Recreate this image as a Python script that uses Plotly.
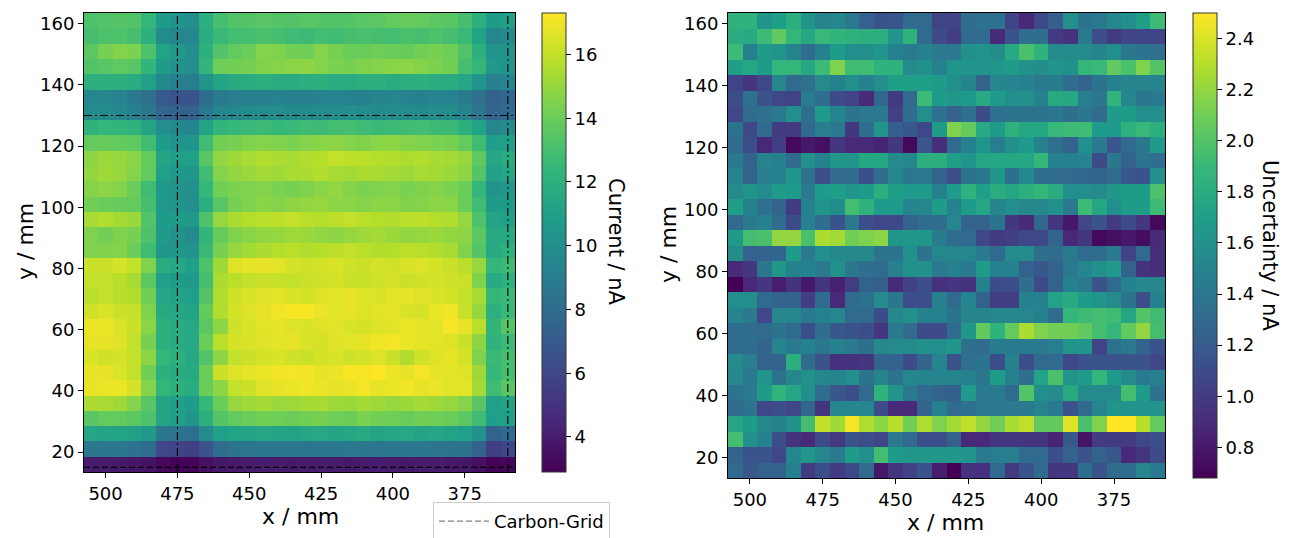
import plotly.graph_objects as go

# ---------------- data ----------------
x_mm = [505, 500, 495, 490, 485, 480, 475, 470, 465, 460, 455, 450, 445, 440, 435,
        430, 425, 420, 415, 410, 405, 400, 395, 390, 385, 380, 375, 370, 365, 360]
y_mm = [161, 156, 151, 146, 141, 136, 131, 126, 121, 116, 111, 106, 101, 96, 91,
        86, 81, 76, 71, 66, 61, 56, 51, 46, 41, 36, 31, 26, 21, 16]

# rows follow y_mm (top -> bottom), columns follow x_mm
current_nA = [
    [13.2,13.3,13.4,13.3,12.4,10.8,10.4,10.0,11.9,13.0,13.3,13.4,13.5,13.4,13.3,13.5,13.4,13.3,13.4,13.5,13.6,13.8,13.9,13.8,13.6,13.5,13.0,12.0,10.8,11.0],
    [13.0,13.2,13.2,13.0,12.0,9.8,9.5,9.6,11.8,12.6,12.9,13.0,13.1,13.0,12.8,12.7,12.9,12.8,13.0,13.1,13.0,12.9,13.1,13.0,13.2,13.0,12.6,11.2,9.6,9.8],
    [13.6,14.3,14.6,14.4,13.2,11.2,10.6,10.0,12.0,13.3,13.8,14.0,14.6,14.5,14.2,14.1,14.6,14.3,14.0,14.0,14.1,14.0,13.9,14.2,14.3,14.1,13.3,12.0,10.4,10.3],
    [13.3,13.5,13.7,13.5,12.3,10.7,10.2,10.0,12.3,14.1,14.2,14.3,14.5,14.6,14.7,14.8,14.6,14.4,14.3,14.5,14.6,14.7,14.8,14.6,14.4,14.2,13.0,12.4,10.6,10.4],
    [11.9,12.0,12.0,11.7,11.0,9.7,9.2,9.0,10.4,11.3,11.6,11.8,11.9,11.8,11.7,11.9,12.0,11.8,11.7,11.9,12.0,11.8,11.9,12.0,11.8,11.7,11.4,10.4,9.2,9.4],
    [9.5,9.5,9.3,8.8,8.2,6.9,6.7,6.6,8.0,8.8,9.0,9.1,9.2,9.3,9.2,9.1,9.3,9.4,9.3,9.2,9.4,9.5,9.3,9.2,9.4,9.3,8.9,8.2,7.4,7.6],
    [9.8,9.8,9.7,9.2,8.6,7.6,7.4,7.3,8.7,9.6,9.7,9.8,9.9,10.0,9.8,9.7,9.9,10.0,10.1,9.9,9.8,10.0,9.9,9.8,10.0,9.9,9.4,8.5,7.6,7.8],
    [12.2,12.4,12.3,12.2,11.3,10.0,9.7,9.4,11.3,12.3,12.5,12.6,12.7,12.5,12.6,12.8,12.7,12.9,13.0,12.8,12.6,12.7,12.8,12.9,12.7,12.6,12.0,11.2,9.5,9.8],
    [13.8,13.9,13.8,13.7,12.8,10.8,10.4,10.4,12.8,14.2,14.3,14.5,14.6,14.5,14.4,14.6,14.7,14.8,14.6,14.5,14.7,14.8,14.6,14.5,14.4,14.3,13.8,12.8,10.9,11.0],
    [14.8,15.1,15.0,14.7,13.8,11.3,11.0,11.0,13.5,14.9,15.2,15.4,15.6,15.5,15.4,15.6,15.7,16.0,15.9,15.8,15.7,15.6,15.5,15.6,15.4,15.3,15.0,13.7,11.4,11.8],
    [14.9,15.2,15.0,14.6,13.8,11.0,10.6,10.5,12.8,14.6,14.9,15.1,15.3,15.2,15.4,15.5,15.6,15.4,15.3,15.5,15.4,15.3,15.2,15.4,15.3,15.1,14.8,13.4,11.1,11.4],
    [14.6,14.8,14.6,14.0,12.8,10.6,10.3,10.1,12.5,14.2,14.4,14.5,14.6,14.4,14.3,14.5,14.7,14.9,14.6,14.4,14.5,14.6,14.4,14.5,14.6,14.4,14.0,12.4,10.3,10.6],
    [14.2,14.0,13.9,13.8,13.0,10.6,10.4,10.0,11.9,13.5,14.3,14.5,14.7,14.6,14.8,14.9,15.0,14.8,14.7,14.6,14.8,14.7,14.5,14.6,14.8,14.7,14.0,12.8,10.7,10.8],
    [15.4,15.6,15.3,15.1,13.3,10.8,10.8,10.6,13.2,15.0,15.5,15.7,15.8,15.9,16.0,15.8,15.7,15.9,16.0,15.8,15.7,15.6,15.8,15.9,15.7,15.6,15.0,13.2,11.3,11.0],
    [14.5,14.2,14.5,14.3,13.2,10.7,10.2,9.8,12.3,13.9,14.5,14.7,14.9,15.0,15.2,15.1,14.9,14.8,15.0,15.2,15.3,15.1,14.9,15.0,15.1,14.9,14.8,13.6,11.6,11.6],
    [14.5,14.5,14.6,14.0,12.8,10.5,10.5,10.3,12.6,14.3,15.0,15.3,15.5,15.7,15.8,15.6,15.7,15.9,16.0,15.8,15.6,15.7,15.9,15.8,15.6,15.4,14.5,13.4,11.6,12.0],
    [16.2,16.2,16.4,16.0,14.5,11.8,11.5,11.0,13.2,15.2,16.6,16.8,16.8,16.7,16.4,16.3,16.4,16.5,16.3,16.2,16.4,16.3,16.5,16.6,16.4,16.2,15.8,15.0,12.4,12.7],
    [16.0,16.0,15.8,15.4,13.6,11.0,10.8,10.6,13.0,15.5,15.8,16.0,16.2,16.1,16.0,16.2,16.3,16.4,16.2,16.1,16.3,16.4,16.2,16.3,16.4,16.3,16.2,14.5,11.6,12.0],
    [15.8,16.0,15.8,15.6,14.2,11.4,11.2,10.9,13.3,15.6,16.3,16.5,16.6,16.7,16.5,16.4,16.6,16.7,16.8,16.6,16.5,16.7,16.8,16.6,16.5,16.4,16.0,15.4,12.4,12.6],
    [16.3,16.5,16.2,16.1,14.5,11.6,11.4,11.2,13.8,15.6,16.4,16.6,16.8,17.0,17.2,17.2,16.9,16.7,16.8,16.6,16.7,16.8,16.5,16.4,16.9,17.0,16.1,15.0,12.0,12.6],
    [16.9,16.9,16.5,16.2,14.7,12.0,11.8,11.5,13.6,14.8,16.3,16.5,16.7,16.8,16.6,16.5,16.6,16.7,16.5,16.4,16.6,16.7,16.9,16.8,16.7,17.1,16.8,15.8,12.3,13.4],
    [16.8,16.8,16.6,16.0,14.3,12.0,11.8,11.5,14.0,15.8,16.4,16.5,16.6,16.7,16.8,16.5,16.4,16.6,16.7,16.8,17.0,17.1,16.9,16.8,16.7,16.6,16.2,14.8,12.2,12.7],
    [16.5,16.3,16.4,16.0,14.8,12.5,12.0,11.5,13.3,14.8,16.0,16.2,16.4,16.5,16.3,16.2,16.4,16.5,16.3,16.4,16.6,16.2,15.6,16.3,16.6,16.8,16.4,14.5,12.6,13.0],
    [16.8,16.8,16.5,16.0,14.2,12.0,11.8,11.6,14.0,16.2,16.6,16.8,16.9,17.0,17.1,17.0,16.8,16.9,17.2,17.1,17.3,16.9,16.8,17.1,16.8,16.7,16.6,15.2,12.5,13.0],
    [16.8,16.9,16.9,16.4,14.6,12.4,12.0,11.8,14.0,14.8,16.0,16.2,16.6,16.8,16.9,17.0,16.9,16.8,16.9,17.1,16.8,16.9,17.0,16.8,16.9,16.7,16.7,15.3,12.8,13.5],
    [15.5,15.4,15.2,14.6,13.5,11.3,11.0,10.8,12.5,14.0,15.0,15.2,15.3,15.1,15.2,15.3,15.4,15.2,15.1,15.3,15.2,15.0,15.1,15.3,15.2,15.0,14.6,13.5,11.0,11.2],
    [13.5,13.8,13.8,13.6,13.2,11.3,11.0,10.4,12.0,13.4,13.8,14.0,14.2,14.1,14.0,14.2,14.3,14.1,14.0,14.4,14.2,14.1,14.0,14.2,14.1,14.0,13.6,12.8,10.9,11.0],
    [11.4,11.3,11.2,11.1,10.6,8.7,8.4,8.1,9.8,11.0,11.2,11.3,11.4,11.3,11.2,11.4,11.5,11.3,11.4,11.6,11.3,11.4,11.5,11.3,11.4,11.2,11.0,10.2,7.4,7.8],
    [8.6,8.6,8.6,8.3,8.0,6.0,5.8,5.6,6.6,8.0,8.4,8.5,8.6,8.7,8.6,8.5,8.6,8.7,8.8,8.6,8.5,8.6,8.7,8.6,8.5,8.4,8.3,7.4,5.6,6.0],
    [4.0,4.0,3.9,3.8,3.6,3.2,3.0,3.0,3.5,3.8,3.9,4.0,4.1,4.0,3.9,4.0,4.1,4.0,3.9,4.0,4.1,4.0,3.9,4.0,4.0,3.9,3.8,3.5,3.0,3.1],
]

uncertainty_nA = [
    [1.85,1.85,1.62,1.70,1.82,1.62,1.50,1.52,1.42,1.24,1.15,1.16,1.30,1.30,1.05,1.06,1.32,1.36,1.36,1.05,0.88,1.08,1.22,1.58,1.38,1.42,1.52,1.58,1.70,1.92],
    [1.80,1.78,1.92,2.05,1.88,1.76,1.90,1.86,1.84,1.82,1.82,1.62,1.85,1.30,1.10,1.02,1.30,1.32,0.90,1.15,1.33,1.34,1.00,0.95,1.42,1.12,1.00,1.06,1.06,1.05],
    [1.92,1.48,1.67,1.62,1.50,1.32,1.48,1.68,1.58,1.58,1.62,1.48,1.43,1.47,1.42,1.42,1.60,1.62,1.57,1.78,1.97,1.85,1.55,1.55,1.55,1.50,1.58,1.40,1.38,1.35],
    [1.70,1.76,1.68,1.88,1.88,1.76,1.92,2.14,1.93,1.93,1.85,1.85,1.55,1.60,1.48,1.62,1.62,1.62,1.62,1.68,1.60,1.57,1.62,1.60,1.88,1.90,2.05,1.97,2.14,2.00],
    [1.05,0.96,1.08,1.52,1.30,1.35,1.55,1.48,1.58,1.47,1.58,1.70,1.70,1.70,1.66,1.58,1.50,1.25,1.52,1.50,1.48,1.42,1.44,1.32,1.25,1.37,1.48,1.50,1.50,1.50],
    [1.12,1.36,1.15,1.07,1.05,1.44,1.33,1.10,1.05,0.90,1.28,1.00,1.30,1.92,1.68,1.64,1.66,1.78,1.66,1.58,1.60,1.48,1.78,1.76,1.46,1.40,1.86,1.52,1.40,1.42],
    [1.07,1.32,1.35,1.42,1.58,1.33,1.68,1.50,1.38,1.42,1.42,1.03,1.33,1.58,1.36,1.24,1.36,1.10,1.36,1.37,1.37,1.37,1.40,1.34,1.40,1.32,1.66,1.68,1.58,1.58],
    [1.37,1.07,1.30,1.00,1.00,1.30,1.45,1.42,0.98,1.34,1.62,1.23,1.18,1.08,1.68,2.14,2.06,1.78,1.66,1.84,1.76,1.76,1.90,1.92,1.93,1.68,1.66,1.84,1.90,1.82],
    [1.32,1.12,0.88,1.02,0.72,0.80,0.76,0.98,0.90,0.88,0.86,0.98,0.72,1.16,0.92,1.30,1.48,1.62,1.45,1.60,1.66,1.48,1.35,1.25,1.58,1.42,1.16,1.30,1.40,1.66],
    [1.42,1.25,1.50,1.48,1.30,1.60,1.48,1.64,1.62,1.76,1.76,1.55,1.52,1.82,1.82,1.70,1.62,1.75,1.76,1.76,1.76,1.88,1.48,1.48,1.50,1.10,1.40,1.25,1.38,1.33],
    [1.50,1.25,1.45,1.48,1.62,1.35,1.12,1.30,1.32,1.13,1.33,1.52,1.40,1.42,1.25,1.12,1.38,1.40,1.64,1.34,1.53,1.33,1.30,1.30,1.28,1.26,1.32,1.18,1.15,1.58],
    [1.55,1.62,1.56,1.66,1.66,1.42,1.66,1.70,1.62,1.68,1.82,1.70,1.66,1.66,1.48,1.66,1.85,1.70,1.80,1.75,1.82,1.88,1.80,1.58,1.58,1.55,1.64,1.68,1.68,1.98],
    [1.70,1.48,1.35,1.26,1.00,1.48,1.62,1.57,1.95,1.85,1.66,1.66,1.50,1.52,1.68,1.48,1.68,1.75,1.50,1.58,1.53,1.53,1.60,1.42,1.92,1.75,1.58,1.68,1.68,1.92],
    [1.30,1.42,1.47,1.32,1.10,1.48,1.33,1.15,1.42,1.12,1.07,1.08,1.25,1.32,1.32,1.52,1.25,1.25,1.38,0.98,0.90,1.28,0.96,0.80,1.07,1.15,1.00,1.10,0.97,0.72],
    [1.68,1.95,1.97,2.20,2.20,1.97,2.27,2.25,2.10,2.14,2.18,1.64,1.64,1.64,1.44,1.32,1.30,1.08,1.00,1.02,1.08,1.08,1.27,0.88,0.98,0.72,0.76,0.80,0.74,0.90],
    [1.57,1.24,1.24,1.27,1.68,1.42,1.58,1.53,1.53,1.53,1.38,1.38,1.60,1.37,1.52,1.52,1.52,1.42,1.30,1.55,1.55,1.34,1.32,1.42,1.30,1.32,1.42,1.05,1.30,0.92],
    [0.90,0.98,1.40,1.64,1.48,1.48,1.42,1.60,1.40,1.33,1.30,1.47,1.60,1.60,1.42,1.48,1.42,1.68,1.48,1.48,1.24,1.18,1.25,1.42,1.52,1.60,1.66,1.25,0.95,0.92],
    [0.68,0.88,0.97,0.83,0.95,0.80,0.96,0.84,1.01,1.25,1.22,0.90,1.04,1.12,0.94,0.96,0.94,1.48,1.10,1.12,1.33,1.10,1.25,1.48,1.42,1.15,1.30,1.48,1.53,1.52],
    [1.58,1.58,1.30,1.26,1.26,1.02,1.32,0.88,1.30,1.36,1.55,1.40,1.12,1.12,1.48,1.30,1.50,1.25,1.02,1.02,1.48,1.48,1.72,1.78,1.68,1.62,1.55,1.37,1.12,1.48],
    [1.50,1.42,1.07,1.52,1.52,1.42,1.48,1.52,1.30,1.30,1.10,1.53,1.60,1.48,1.48,1.37,1.50,1.50,1.52,1.52,1.52,1.48,1.32,1.88,1.92,1.95,1.93,1.75,2.00,1.93],
    [1.32,1.32,1.30,1.37,1.30,1.12,1.33,1.18,1.15,1.12,0.97,1.42,1.32,1.10,1.10,1.32,1.64,2.05,1.85,2.06,2.27,2.14,2.10,2.10,2.05,1.95,1.88,2.05,2.20,1.95],
    [1.32,1.32,1.26,1.50,1.42,1.48,1.40,1.48,1.42,1.34,1.53,1.55,1.55,1.60,1.58,1.64,1.34,1.32,1.44,1.43,1.43,1.42,1.45,1.62,1.62,1.05,1.36,1.42,1.26,1.15],
    [1.55,1.45,1.25,1.24,1.82,1.32,1.15,0.94,0.94,0.96,1.26,1.24,1.10,1.26,1.50,1.15,1.35,1.38,1.12,1.48,1.12,1.30,1.30,1.08,1.15,1.15,1.15,1.15,1.15,1.07],
    [1.53,1.42,1.62,1.38,1.52,1.60,1.52,1.50,1.58,1.38,1.50,1.38,1.52,1.50,1.50,1.50,1.48,1.40,1.68,1.48,1.34,1.72,1.97,1.62,1.66,1.88,1.66,1.55,1.42,1.47],
    [1.37,1.43,1.66,1.86,1.75,1.58,1.32,1.18,1.12,1.30,1.85,1.62,1.42,1.30,1.25,1.23,1.66,1.42,1.42,1.30,2.00,1.58,1.55,1.78,1.55,1.55,1.55,1.95,1.68,1.38],
    [1.32,1.37,1.08,1.12,1.07,1.28,0.96,1.52,1.52,1.52,1.10,0.88,0.90,1.26,1.48,1.30,1.36,1.42,1.42,1.42,1.43,1.50,1.43,1.15,1.30,1.50,1.62,1.62,1.62,1.62],
    [1.75,1.68,1.53,1.48,1.60,1.95,2.33,2.24,2.47,2.28,2.18,2.30,2.10,2.28,2.14,2.25,2.33,2.20,2.10,2.27,2.33,2.05,2.05,2.42,1.97,2.14,2.50,2.50,2.30,2.06],
    [1.95,1.60,1.48,1.12,0.95,0.90,1.10,1.00,1.15,1.12,1.07,1.42,1.30,1.12,1.12,1.25,0.88,0.88,0.96,0.96,0.96,0.96,0.86,1.18,0.78,1.00,1.00,1.00,1.07,1.12],
    [1.25,1.15,1.15,1.07,1.52,1.64,1.52,1.42,1.68,1.58,1.95,1.68,1.64,1.64,1.64,1.64,1.62,1.42,1.45,1.45,1.30,1.30,1.12,1.25,1.15,1.25,1.18,0.88,0.96,1.10],
    [1.30,1.18,1.25,1.24,1.48,1.00,1.12,1.00,1.08,1.30,0.80,0.96,1.04,1.15,0.83,0.68,0.94,0.94,1.30,1.00,1.15,1.30,0.98,0.98,1.34,1.15,1.32,1.32,1.52,1.42],
]

x_ticks = [500, 475, 450, 425, 400, 375]
y_ticks = [20, 40, 60, 80, 100, 120, 140, 160]
current_ticks = [4, 6, 8, 10, 12, 14, 16]
uncert_ticks = [0.8, 1.0, 1.2, 1.4, 1.6, 1.8, 2.0, 2.2, 2.4]
uncert_tick_text = ["0.8", "1.0", "1.2", "1.4", "1.6", "1.8", "2.0", "2.2", "2.4"]

grid_x_mm = [475, 360]      # carbon grid vertical positions
grid_y_mm = [130]           # carbon grid horizontal (dash-dot)
grid_y_edge_mm = [15]       # carbon grid bottom edge (dashed)

current_range = [2.9, 17.3]
uncert_range = [0.68, 2.5]

# ---------------- figure ----------------
W, H = 1300, 538
FONT = "DejaVu Sans"

def px_x(p):
    return p / W

def px_y(p):
    return 1 - p / H

step = 5.0
x_lo = min(x_mm) - step / 2
x_hi = max(x_mm) + step / 2
y_lo = min(y_mm) - step / 2
y_hi = max(y_mm) + step / 2

fig = go.Figure()

cb_common = dict(
    thickness=24, thicknessmode="pixels", lenmode="fraction",
    outlinewidth=1, outlinecolor="#333333", ticks="outside", ticklen=5,
    tickcolor="black", tickfont=dict(size=18, family=FONT, color="black"),
    xanchor="left", yanchor="bottom", xpad=0, ypad=0,
)

fig.add_trace(go.Heatmap(
    x=x_mm, y=y_mm, z=current_nA, colorscale="Viridis",
    zmin=current_range[0], zmax=current_range[1],
    xaxis="x", yaxis="y", showlegend=False,
    colorbar=dict(x=px_x(542), y=px_y(472), len=(472 - 13) / H,
                  tickvals=current_ticks, **cb_common),
))

fig.add_trace(go.Heatmap(
    x=x_mm, y=y_mm, z=uncertainty_nA, colorscale="Viridis",
    zmin=uncert_range[0], zmax=uncert_range[1],
    xaxis="x2", yaxis="y2", showlegend=False,
    colorbar=dict(x=px_x(1193), y=px_y(478), len=(478 - 13) / H,
                  tickvals=uncert_ticks, ticktext=uncert_tick_text, **cb_common),
))

line_style = dict(color="black", width=1.1, dash="8px,3px,2px,3px")
for gx in grid_x_mm:
    fig.add_shape(type="line", xref="x", yref="y domain", x0=gx, x1=gx, y0=0, y1=1,
                  line=line_style)
for gy in grid_y_mm:
    fig.add_shape(type="line", xref="x domain", yref="y", x0=0, x1=1, y0=gy, y1=gy,
                  line=line_style)
for gy in grid_y_edge_mm:
    fig.add_shape(type="line", xref="x domain", yref="y", x0=0, x1=1, y0=gy, y1=gy,
                  line=dict(color="black", width=1.1, dash="6px,3px"))

# legend entry
fig.add_trace(go.Scatter(
    x=[None], y=[None], mode="lines", name="Carbon-Grid",
    line=dict(color="gray", width=1.3, dash="6px,3px"),
    xaxis="x", yaxis="y", showlegend=True,
))

axis_common = dict(
    showline=True, linecolor="black", linewidth=1, mirror=True,
    ticks="outside", ticklen=5, tickwidth=1, tickcolor="black",
    tickfont=dict(size=18, family=FONT, color="black"),
    showgrid=False, zeroline=False,
)

fig.update_layout(
    width=W, height=H,
    margin=dict(l=0, r=0, t=0, b=0, autoexpand=False),
    paper_bgcolor="white", plot_bgcolor="white",
    font=dict(family=FONT, color="black"),
    xaxis=dict(domain=[px_x(84), px_x(515)], range=[x_hi, x_lo],
               tickvals=x_ticks, anchor="y", **axis_common),
    yaxis=dict(domain=[px_y(472), px_y(13)], range=[y_lo, y_hi],
               tickvals=y_ticks, anchor="x", **axis_common),
    xaxis2=dict(domain=[px_x(728), px_x(1165)], range=[x_hi, x_lo],
                tickvals=x_ticks, anchor="y2", **axis_common),
    yaxis2=dict(domain=[px_y(478), px_y(13)], range=[y_lo, y_hi],
                tickvals=y_ticks, anchor="x2", **axis_common),
    showlegend=True,
    legend=dict(x=px_x(433), y=px_y(502), xanchor="left", yanchor="top",
                bgcolor="white", bordercolor="#cccccc", borderwidth=1,
                font=dict(size=18, family=FONT, color="black"),
                itemwidth=50),
)

ann = []
ann.append(dict(text="x / mm", x=px_x(300), y=px_y(516), xref="paper", yref="paper",
                showarrow=False, font=dict(size=22, family=FONT), xanchor="center", yanchor="middle"))
ann.append(dict(text="x / mm", x=px_x(946), y=px_y(522), xref="paper", yref="paper",
                showarrow=False, font=dict(size=22, family=FONT), xanchor="center", yanchor="middle"))
ann.append(dict(text="y / mm", x=px_x(25), y=px_y(242), xref="paper", yref="paper", textangle=-90,
                showarrow=False, font=dict(size=22, family=FONT), xanchor="center", yanchor="middle"))
ann.append(dict(text="y / mm", x=px_x(668), y=px_y(245), xref="paper", yref="paper", textangle=-90,
                showarrow=False, font=dict(size=22, family=FONT), xanchor="center", yanchor="middle"))
ann.append(dict(text="Current / nA", x=px_x(616), y=px_y(242), xref="paper", yref="paper", textangle=90,
                showarrow=False, font=dict(size=21, family=FONT), xanchor="center", yanchor="middle"))
ann.append(dict(text="Uncertainty / nA", x=px_x(1270), y=px_y(245), xref="paper", yref="paper", textangle=90,
                showarrow=False, font=dict(size=21, family=FONT), xanchor="center", yanchor="middle"))
fig.update_layout(annotations=ann)

fig.write_html("out.html", config={"displayModeBar": False},
               post_script="document.body.style.margin='0';document.body.style.overflow='hidden';")
